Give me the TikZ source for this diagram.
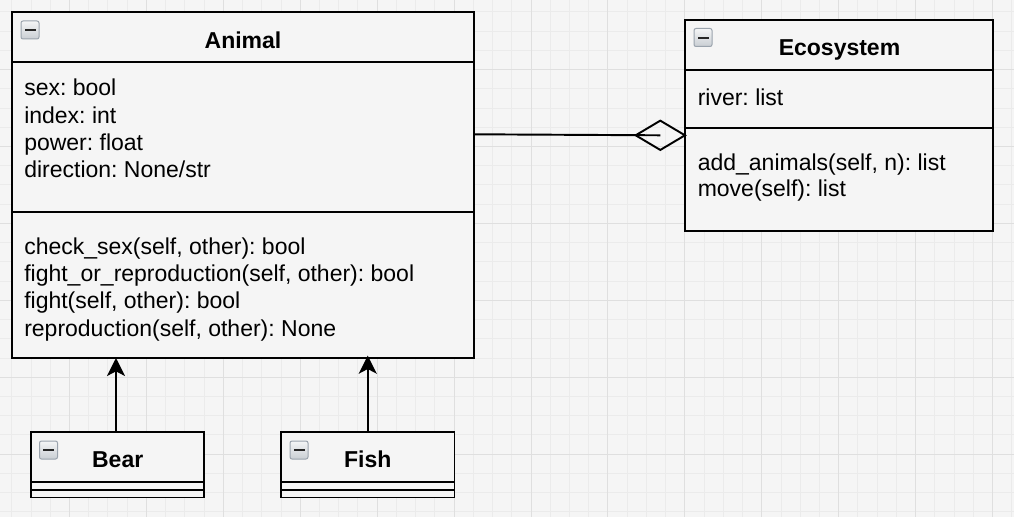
\documentclass[tikz,border=0pt]{standalone}
\usepackage{fontspec}
\setmainfont{Liberation Sans}
\usetikzlibrary{arrows.meta,shapes.geometric,calc}
\definecolor{bg}{HTML}{F5F5F5}
\definecolor{gridminor}{HTML}{EBEBEB}
\definecolor{gridmajor}{HTML}{DFDFDF}
\definecolor{iconborder}{HTML}{9AA3AD}
\definecolor{icontop}{HTML}{F4F5F6}
\definecolor{iconbot}{HTML}{C9CED3}
\tikzset{
  umlbox/.style={draw, line width=1.45pt, fill=bg, anchor=north west, inner sep=0pt, outer sep=0pt},
  sepline/.style={line width=1.45pt},
  txt/.style={anchor=base west, inner sep=0pt, font=\fontsize{17.25pt}{20pt}\selectfont},
  ttl/.style={anchor=base, inner sep=0pt, font=\fontsize{17.25pt}{20pt}\selectfont\bfseries},
  inh/.style={line width=1.45pt, -{Stealth[length=13.5pt, width=13.5pt, inset=3.5pt]}},
  minusicon/.pic={
    \draw[draw=iconborder, line width=0.75pt, rounded corners=1.5pt, top color=icontop, bottom color=iconbot] (0,0) rectangle (18,18);
    \fill[black!85] (3.5,8.2) rectangle (14.5,10.2);
  }
}
\begin{document}
\frenchspacing
\begin{tikzpicture}[x=0.75pt,y=-0.75pt]
\useasboundingbox (0,0) rectangle (1014,517);
\fill[bg] (0,0) rectangle (1014,517);
% grid
\foreach \i in {0,...,52} {\draw[gridminor, line width=0.75pt] ({11.8+19.23*\i},0) -- ({11.8+19.23*\i},517);}
\foreach \i in {0,...,26} {\draw[gridminor, line width=0.75pt] (0,{11.9+19.23*\i}) -- (1014,{11.9+19.23*\i});}
\foreach \i in {0,...,12} {\draw[gridmajor, line width=0.75pt] ({69.5+76.92*\i},0) -- ({69.5+76.92*\i},517);}
\foreach \i in {0,...,5} {\draw[gridmajor, line width=0.75pt] (0,{69.6+76.92*\i}) -- (1014,{69.6+76.92*\i});}

% Animal
\node[umlbox, minimum width=462*0.75pt, minimum height=346*0.75pt] (animal) at (12,12) {};
\draw[sepline] (12,61.7) -- (474,61.7);
\draw[sepline] (12,212) -- (474,212);
\pic at (21,21) {minusicon};
\node[ttl] (animalT) at (243,48.3) {Animal};
\node[txt] (a1) at (24,96) {sex: bool};
\node[txt] (a2) at (24,123.3) {index: int};
\node[txt] (a3) at (24,150.6) {power: float};
\node[txt] (a4) at (24,177.9) {direction: None/str};
\node[txt] (m1) at (24,254.3) {check\_sex(self, other): bool};
\node[txt] (m2) at (24,281.6) {fight\_or\_reproduction(self, other): bool};
\node[txt] (m3) at (24,308.9) {fight(self, other): bool};
\node[txt] (m4) at (24,336.2) {reproduction(self, other): None};

% Ecosystem
\node[umlbox, minimum width=308*0.75pt, minimum height=211*0.75pt] (eco) at (685,20) {};
\draw[sepline] (685,70.3) -- (993,70.3);
\draw[sepline] (685,127.7) -- (993,127.7);
\pic at (694,28.5) {minusicon};
\node[ttl] (ecoT) at (839.5,55.7) {Ecosystem};
\node[txt] (e1) at (697.5,105) {river: list};
\node[txt] (e2) at (697.5,170) {add\_animals(self, n): list};
\node[txt] (e3) at (697.5,196.5) {move(self): list};

% Bear
\node[umlbox, minimum width=173*0.75pt, minimum height=65.5*0.75pt] (bear) at (31,432) {};
\draw[sepline] (31,481.7) -- (204,481.7);
\draw[sepline] (31,490) -- (204,490);
\pic at (39.5,441) {minusicon};
\node[ttl] (bearT) at (117.7,467.7) {Bear};

% Fish
\node[umlbox, minimum width=173.5*0.75pt, minimum height=65.5*0.75pt] (fish) at (281,432) {};
\draw[sepline] (281,481.7) -- (454.5,481.7);
\draw[sepline] (281,490) -- (454.5,490);
\pic at (290,441) {minusicon};
\node[ttl] (fishT) at (367.8,467.7) {Fish};

% inheritance
\draw[inh] ($(bear.north)+(-1.5,0)$) -- ($(bear.north |- animal.south)+(-1.5,0)$);
\draw[inh] (fish.north) -- ($(fish.north |- animal.south)+(0,-2.3)$);

% aggregation
\node[diamond, draw, line width=1.45pt, minimum width=49.3*0.75pt, minimum height=29.3*0.75pt, inner sep=0pt, outer sep=0pt] (agg) at (660.3,135.3) {};
\draw[sepline] ($(animal.north east)+(0,122.3)$) -- (agg.center);
\end{tikzpicture}
\end{document}
